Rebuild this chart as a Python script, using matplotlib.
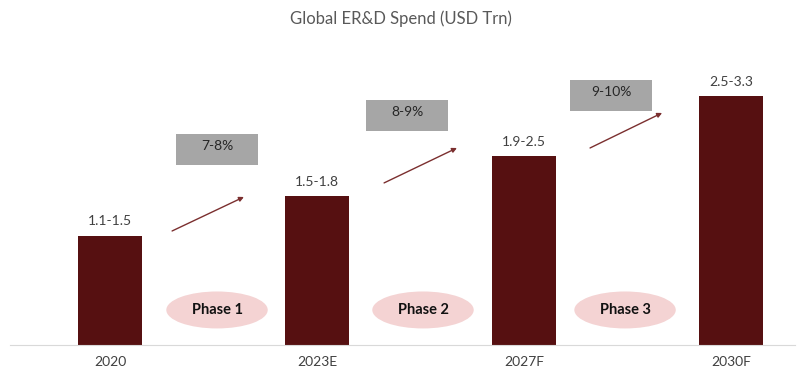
import matplotlib.pyplot as plt
from matplotlib.patches import Ellipse, Rectangle

# chart data
years = ["2020", "2023E", "2027F", "2030F"]
spend = [1.30, 1.77, 2.25, 2.96]          # bar heights (USD Trn)
spend_labels = ["1.1-1.5", "1.5-1.8", "1.9-2.5", "2.5-3.3"]
cagr_labels = ["7-8%", "8-9%", "9-10%"]
phases = ["Phase 1", "Phase 2", "Phase 3"]

BAR = "#561011"
GREY_BOX = "#a6a6a6"
PINK = "#f4d3d3"
ARROW = "#7b2f2f"
TXT = "#404040"

plt.rcParams["font.family"] = ["Lato", "DejaVu Sans"]

fig = plt.figure(figsize=(8.01, 3.71), dpi=100)
ax = fig.add_axes([10 / 801, 26 / 371, 785 / 801, 305 / 371])

x = list(range(len(years)))
ax.bar(x, spend, width=0.31, color=BAR, zorder=2)
for xi, h, lab in zip(x, spend, spend_labels):
    ax.text(xi, h + 0.1, lab, ha="center", va="bottom", fontsize=10, color=TXT)

# growth boxes and arrows between bars
box_x = [0.319, 1.237, 2.222]
box_y = [2.143, 2.548, 2.786]
arrow_start = [(0.300, 1.357), (1.324, 1.929), (2.319, 2.345)]
arrow_end = [(0.647, 1.762), (1.676, 2.345), (2.667, 2.762)]
for bx, by, lab, s, e in zip(box_x, box_y, cagr_labels, arrow_start, arrow_end):
    ax.add_patch(Rectangle((bx, by), 0.396, 0.37, facecolor=GREY_BOX,
                           edgecolor="none", zorder=2))
    ax.text(bx + 0.198, by + 0.23, lab, ha="center", va="center",
            fontsize=10, color="#262626", zorder=3)
    ax.annotate("", xy=e, xytext=s,
                arrowprops=dict(arrowstyle="-|>", color=ARROW, lw=1.0,
                                mutation_scale=7, shrinkA=0, shrinkB=0))

# phase ellipses
phase_x = [0.517, 1.512, 2.488]
for px, lab in zip(phase_x, phases):
    ax.add_patch(Ellipse((px, 0.417), 0.49, 0.44, facecolor=PINK,
                         edgecolor="none", zorder=2))
    ax.text(px, 0.417, lab, ha="center", va="center", fontsize=10.5,
            fontweight="bold", color="#111111", zorder=3)

ax.set_xlim(-0.483, 3.309)
ax.set_ylim(0, 3.63)
ax.set_xticks(x)
ax.set_xticklabels(years, fontsize=10, color=TXT)
ax.tick_params(axis="x", length=0, pad=8)
ax.set_yticks([])
for side in ["top", "right", "left"]:
    ax.spines[side].set_visible(False)
ax.spines["bottom"].set_color("#d9d9d9")

fig.text(0.5, 1 - 19 / 371, "Global ER&D Spend (USD Trn)", ha="center",
         va="center", fontsize=12, color="#595959")

fig.savefig("out.png", dpi=100, facecolor="white")
